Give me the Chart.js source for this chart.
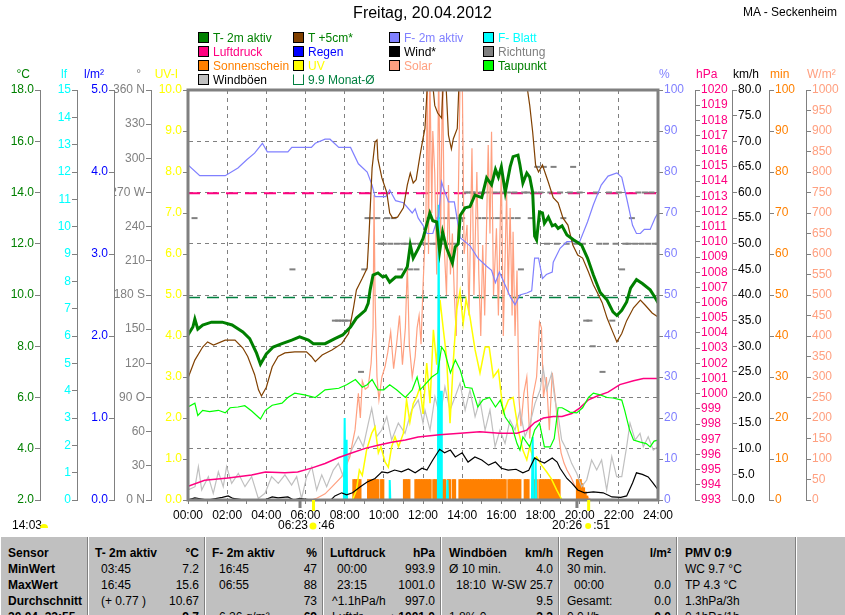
<!DOCTYPE html>
<html lang="de">
<head>
<meta charset="UTF-8">
<title>Wetter MA - Seckenheim 20.04.2012</title>
<style>
  body { margin: 0; width: 845px; height: 615px; overflow: hidden; background: #fff;
         font-family: "Liberation Sans", Arial, sans-serif; font-size: 12px; position: relative; }
  #titel { position: absolute; left: 0; width: 845px; top: 4px; text-align: center; font-size: 16px; }
  #station { position: absolute; right: 8px; top: 5px; white-space: nowrap; }
  #wrap { position: absolute; left: 0; top: 0; width: 845px; height: 537px; }
  #legende { position: absolute; left: 198px; top: 31px; }
  .li { position: absolute; white-space: nowrap; height: 14px; line-height: 14px; }
  .li i { display: inline-block; width: 9px; height: 9px; border: 1px solid #000; vertical-align: -1px; margin-right: 4px; }
  #stats { position: absolute; left: 0; top: 537px; width: 845px; height: 78px; background: #c0c0c0; }
  .col { position: absolute; top: 0; height: 78px; border-left: 1px solid #808080; box-shadow: inset 1px 0 #fff; }
  .cell { position: absolute; left: 0; right: 0; height: 16px; line-height: 16px; white-space: nowrap; }
  .cell span { position: absolute; }
  .b { font-weight: bold; }
</style>
</head>
<body>
<div id="wrap"><canvas id="wetterChart"></canvas></div>
<div id="titel">Freitag, 20.04.2012</div>
<div id="station">MA - Seckenheim</div>
<div id="legende"></div>
<div id="stats"></div>

<script src="https://cdn.jsdelivr.net/npm/chart.js"></script>
<script>
const tT2 = [0,0.25,0.35,0.5,0.75,1.2,1.75,2.25,2.8,3.15,3.5,3.7,4.0,4.35,4.8,5.3,5.7,6.15,6.4,7.0,7.5,7.9,8.3,8.6,9.05,9.2,9.3,9.45,9.7,9.95,10.1,10.3,10.6,10.9,11.2,11.35,11.5,11.75,12.0,12.35,12.5,12.7,12.85,13.0,13.2,13.5,13.65,13.8,13.9,14.15,14.4,14.65,15.0,15.25,15.5,15.7,15.85,16.0,16.2,16.45,16.6,16.85,16.95,17.1,17.3,17.45,17.6,17.7,17.8,17.95,18.1,18.2,18.4,18.6,18.75,18.9,19.1,19.35,19.7,20.1,20.4,20.7,21.05,21.4,21.7,21.9,22.15,22.4,22.6,22.9,23.2,23.6,23.85,24];
const vT2 = [8.44,8.75,9.06,8.67,8.83,8.94,8.94,8.83,8.56,8.3,7.73,7.3,7.7,7.97,8.1,8.24,8.37,8.24,8.1,8.1,8.3,8.44,8.75,9.1,9.4,9.67,10.2,10.78,10.86,10.7,10.75,10.5,10.7,10.7,11.1,11.95,11.44,11.8,12.2,13.2,12.9,12.85,11.7,12.46,11.84,11.25,11.88,12.0,13.1,13.4,13.45,13.9,13.8,14.57,14.3,14.9,14.6,15.0,14.0,15.0,15.4,15.46,15.07,14.37,14.76,14.6,14.0,12.3,12.15,13.24,13.2,12.8,13.04,12.7,12.75,12.6,12.7,12.34,12.15,11.95,11.44,10.78,10.1,9.8,9.34,9.2,9.4,9.73,10.27,10.6,10.45,10.2,9.9,9.7];

const tT5 = [0,0.35,0.75,1.0,1.3,1.9,2.4,2.8,3.05,3.4,3.6,3.75,4.0,4.3,4.6,4.95,5.45,6.05,6.3,6.5,6.85,7.35,7.85,8.2,8.45,8.6,8.9,9.15,9.25,9.4,9.55,9.65,9.7,9.9,10.15,10.3,10.45,10.7,11.0,11.2,11.35,11.5,11.65,11.85,12.0,12.1,12.25,12.45,12.6,12.75,12.95,13.05,13.15,13.3,13.45,13.55,13.75,13.85,14.5,15.5,16.5,17.3,17.45,17.6,17.75,17.9,18.1,18.4,18.65,18.9,19.15,19.4,19.65,19.9,20.15,20.45,20.7,20.9,21.15,21.4,21.65,21.9,22.15,22.4,22.75,23.1,23.35,23.7,24];
const vT5 = [6.76,7.46,7.97,8.17,8.05,8.24,8.24,7.93,7.6,6.9,6.3,6.06,6.4,7.2,7.6,7.74,7.78,7.78,7.6,7.4,7.66,7.85,8.1,8.5,9.5,10.2,10.65,11.05,12.46,14.95,15.97,16.05,15.3,14.57,14.0,13.2,13.0,13.04,13.4,14.3,14.76,14.37,14.5,15.46,16.1,16.5,18.6,18.6,17.4,17.1,16.9,18.6,18.6,16.24,15.7,16.1,16.5,18.5,19.5,20,19.5,18.2,17.4,16.36,15.07,14.8,15.07,14.4,13.8,13.6,13.0,12.73,11.95,11.56,11.44,10.9,10.4,10.1,9.7,9.1,8.63,8.17,8.5,9.0,9.5,9.8,9.6,9.3,9.14];

const tTau = [0,0.35,0.5,0.75,1.1,1.55,1.9,2.15,2.55,2.9,3.25,3.7,3.95,4.3,4.8,5.1,5.45,5.95,6.5,7.0,7.7,8.1,8.55,8.9,9.15,9.4,9.7,10.0,10.3,10.65,11.1,11.45,11.7,11.85,12.1,12.45,12.75,12.95,13.1,13.4,13.65,13.9,14.15,14.5,14.8,15.05,15.4,15.7,15.95,16.2,16.55,16.8,16.95,17.1,17.45,17.7,17.95,18.2,18.5,18.7,18.9,19.1,19.5,19.85,20.15,20.45,20.7,21.05,21.4,21.7,22.15,22.3,22.55,22.75,23.1,23.4,23.6,23.8,24];
const vTau = [5.63,5.78,5.3,5.5,5.45,5.5,5.4,5.6,5.63,5.68,5.47,5.16,5.5,5.7,5.78,6.0,6.17,6.1,6.0,6.3,6.36,6.5,6.7,6.4,6.5,6.7,6.3,6.3,6.5,6.3,6.0,6.3,6.8,6.3,6.5,6.8,6.96,7.97,7.8,6.96,7.46,7.07,6.4,6.36,5.63,5.9,6.0,5.63,5.9,5.24,4.85,4.2,3.95,4.46,4.07,4.73,5.0,4.07,4.07,4.4,5.6,5.6,5.43,5.4,5.6,6.0,6.17,6.1,6.0,5.98,5.9,5.5,4.73,4.34,4.26,4.2,4.07,4.3,4.34];

const tHum = [0,0.6,1.9,2.55,3.0,3.4,3.8,4.05,5.1,5.3,6.3,6.5,7.0,7.25,7.7,8.3,8.7,9.15,9.4,9.55,10.1,10.3,10.6,11.0,11.45,11.6,11.75,12.0,12.2,12.5,12.8,12.95,13.05,13.3,13.6,13.9,14.4,14.8,15.25,15.5,15.7,15.9,16.2,16.45,16.7,16.95,17.3,17.55,17.7,17.9,18.1,18.3,18.6,18.65,19.0,19.35,20.0,20.4,20.7,21.1,21.45,21.9,22.15,22.4,22.7,22.9,23.1,23.3,23.6,23.85,24];
const vHum = [81.7,79.1,79.1,81,83,84.6,87,84.9,84.9,86,86,87,88,88,86,86,82,80,76.8,74,74,75.6,73,72.5,70,71,68.8,67,65,65,69.5,77.6,76,72.7,72.7,64,62,59,57,56,53,55.6,52.4,49.6,47.6,50,50.5,51,59,59,54,55,55.6,58,61.4,63,63,67.8,72,76.8,79,79.8,78.7,73.6,67,65,65,66,66,68.8,70];

const tDruck = [0,0.85,2.05,3.25,3.95,4.95,5.6,6.3,7.0,7.7,8.35,9.05,9.7,10.4,11.1,11.75,12.85,13.9,14.9,15.9,16.8,17.3,17.7,18.15,18.65,19.1,19.6,20.0,20.45,20.9,21.45,22.05,22.75,23.25,24];
const vDruck = [993.9,994.3,994.45,994.65,994.85,994.8,994.85,995.1,995.4,995.8,996.1,996.4,996.6,996.8,996.95,997.15,997.3,997.4,997.5,997.4,997.4,997.6,998.1,998.4,998.5,998.5,998.7,999.05,999.6,999.85,1000.1,1000.6,1000.85,1001.0,1001.0];

const tWind = [0,0.35,0.7,1.0,1.75,2.05,2.3,2.9,3.9,4.3,4.6,5.1,5.4,5.7,6.3,7.3,7.5,7.85,8.1,8.4,8.8,9.15,9.55,9.9,10.2,10.55,10.9,11.25,11.6,11.95,12.2,12.5,12.85,13.1,13.4,13.65,14.0,14.3,14.65,15.0,15.35,15.7,16.0,16.35,16.75,17.1,17.4,17.7,17.95,18.2,18.6,18.85,19.0,19.35,19.6,19.9,20.25,20.7,21.2,21.65,22.1,22.4,22.7,22.9,23.2,23.5,23.75,24];
const vWind = [0,0.4,0.2,0,0.5,0.8,0.3,0,0,0.6,0.4,0.6,0,0.3,0,0,0.8,1.4,1.0,1.4,2.6,3.5,4.2,5.5,5.3,5.85,5.5,6.05,5.3,6.2,5.85,7.8,9.9,9.2,9.75,8.4,9.2,7.4,8.4,7.8,6.8,7.4,6.2,5.85,6.0,5.3,5.8,8.2,7.6,7.2,8.2,7.4,6.2,4.2,3.3,1.95,1.4,1.6,1.4,0.6,0.5,0.8,3.3,5.3,5.0,4.5,3.3,2.0];

const tBoen = [0,0.36,0.53,0.7,1.04,1.29,1.55,1.8,1.97,2.23,2.57,2.91,3.25,3.59,3.93,4.27,4.61,4.95,5.29,5.55,5.8,6.06,6.32,6.57,6.83,7.08,7.42,7.68,7.93,8.19,8.44,8.7,8.95,9.21,9.38,9.63,9.89,10.15,10.4,10.74,11.08,11.42,11.76,12.0,12.1,12.36,12.61,12.87,13.12,13.38,13.64,13.89,14.15,14.4,14.66,14.91,15.17,15.42,15.68,15.93,16.19,16.44,16.7,16.95,17.21,17.47,17.72,17.98,18.14,18.31,18.57,18.74,18.91,19.08,19.34,19.59,19.85,20.1,20.36,20.61,20.87,21.12,21.38,21.64,21.89,22.15,22.4,22.57,22.83,23.08,23.25,23.5,23.76,24];
const vBoen = [1.95,2.6,6.5,1.95,4.55,1.3,5.5,2.6,6.5,3.25,5.2,2.6,4.55,0.3,1.3,4.55,3.25,4.9,2.9,4.55,0.3,4.55,6.5,1.95,4.9,2.6,5.85,7.15,4.55,8.45,10.4,12.35,10.4,15,17.9,12.35,13.65,16.25,11.7,15,13,17.55,19.5,15,17.55,13.65,20.15,16.25,22.1,17.55,20.15,22.8,17.55,21.45,16.25,19.5,13.65,17.55,10.4,13.65,11.05,15.6,13.65,17.55,12.35,15,18.85,21.45,25.7,21.45,24.7,19.5,16.25,11.7,9.75,7.15,5.2,2.6,3.9,7.8,5.85,7.8,1.95,8.45,4.55,4.55,10.4,15,11.7,13,10.4,12.35,9.75,10.4];

const tSolar = [0,6.3,6.6,7.0,7.35,7.85,8.27,8.4,8.53,8.7,8.8,8.9,9.05,9.2,9.35,9.45,9.5,9.55,9.65,9.75,9.9,10.06,10.2,10.35,10.5,10.65,10.8,10.95,11.1,11.2,11.3,11.45,11.6,11.7,11.8,11.9,12.0,12.15,12.22,12.28,12.35,12.45,12.5,12.6,12.7,12.8,12.9,13.0,13.1,13.2,13.3,13.4,13.5,13.6,13.7,13.9,14.0,14.1,14.25,14.35,14.5,14.6,14.75,14.85,14.95,15.05,15.15,15.33,15.42,15.5,15.6,15.75,15.85,16.0,16.1,16.27,16.35,16.45,16.55,16.6,16.7,16.8,16.9,17.0,17.15,17.3,17.45,17.6,17.8,17.95,18.05,18.15,18.3,18.45,18.6,18.75,18.9,19.05,19.2,19.35,19.55,19.75,19.95,20.15,20.35,20.6,24];
const vSolar = [0,0,5,15,32,57,106,140,171,260,200,290,270,276,333,420,744,500,300,244,300,325,360,410,320,380,450,330,420,573,380,300,350,420,450,380,520,688,1050,600,1050,700,900,797,550,1050,650,1050,600,500,768,550,650,500,400,1050,1050,600,671,450,858,500,800,550,400,622,450,866,650,898,500,663,450,817,400,751,500,712,450,654,400,560,250,180,260,300,150,250,300,434,420,250,300,170,310,250,170,115,90,73,56,35,24,12,8,0,0];

const tUV = [0,8.4,8.6,8.75,8.9,9.12,9.38,9.55,9.72,9.85,10.06,10.23,10.4,10.57,10.75,11.0,11.16,11.33,11.5,11.68,11.85,12.0,12.19,12.36,12.53,12.7,12.87,13.04,13.2,13.38,13.55,13.72,13.89,14.05,14.2,14.4,14.66,14.91,15.17,15.38,15.59,15.85,16.1,16.36,16.6,16.87,17.1,17.3,17.45,17.65,17.8,18.05,18.31,18.55,18.83,19.1,24];
const vUV = [0,0,0.24,0.73,0.6,1.22,1.63,1.78,1.15,1.3,0.93,0.8,1.3,1.54,1.3,1.63,2.44,1.9,2.35,2.52,2.76,2.1,3.34,2.36,4.15,3.3,4.88,4.15,3.5,1.87,3.4,4.63,5.1,4.3,4.9,4.46,3.66,3.1,3.73,3.73,3.0,3.17,2.12,2.44,2.5,1.7,1.22,0.98,1.3,0.98,1.05,0.85,0.69,0.52,0.24,0,0];

const tBlatt = [0,7.96,8.0,8.04,8.08,8.1,8.12,10.27,10.3,10.33,12.76,12.8,12.84,12.88,12.92,12.96,13.22,13.25,13.28,17.56,17.6,17.64,17.72,17.75,17.78,24];
const vBlatt = [0,0,3.0,0,0,2.2,0,0,0.73,0,0,10.8,0,0,4.0,0,0,0.73,0,0,2.3,0,0,1.5,0,0];

const tRegen = [0,24];
const vRegen = [0,0];

// Sonnenschein in min je 5-min-Intervall ab 08:00
const sonneStart = 8;
const sonneMin = [
  0,0,0,0,0,5,5,5,5,5,0,0,
  0,0,5,5,5,5,5,5,5,0,5,5,
  0,0,0,0,0,0,0,0,0,0,0,0,
  5,5,5,5,0,0,0,5,5,5,5,5,
  5,5,5,5,5,0,5,5,5,5,5,5,
  5,5,0,5,5,0,5,5,0,0,5,5,
  5,5,5,5,5,5,5,5,5,5,5,5,
  5,5,5,5,5,5,5,5,5,5,5,5,
  5,5,5,0,5,5,5,5,5,5,5,5,
  0,0,5,5,5,0,0,0,5,5,0,5,
  5,5,5,5,5,5,5,5,5,5,5,5,
  0,0,0,0,0,0,0,0,0,0,5,5,
  5,4,3,2,1,0
];

// Windrichtung je 10 min ab 00:00 (null = Windstille)
const richtung = [
  null,null,247.5,null,null,null,null,null,null,null,null,null,
  null,null,null,null,null,null,null,null,null,null,null,null,
  null,null,null,null,null,null,null,null,202.5,null,null,null,
  null,null,null,null,null,null,null,null,null,157.5,157.5,157.5,
  157.5,157.5,null,null,null,112.5,202.5,247.5,247.5,247.5,247.5,225,
  225,247.5,225,247.5,225,202.5,225,225,202.5,225,202.5,225,
  225,225,247.5,225,225,247.5,225,247.5,225,247.5,225,247.5,
  247.5,270,270,270,270,247.5,270,247.5,270,247.5,270,247.5,
  270,247.5,270,247.5,270,247.5,202.5,270,270,247.5,270,292.5,
  270,292.5,225,270,292.5,225,270,247.5,225,270,292.5,225,
  270,225,157.5,157.5,135,270,225,112.5,225,270,157.5,225,
  270,202.5,225,225,247.5,225,270,225,270,225,270,225,
  225
];

const monatTemp = 9.9;
const monatDruck = 1013.2;
const sonnenAuf = 6 + 23 / 60;
const sonnenUnter = 20 + 26 / 60;
const daemmerung = [5.72, 19.86];

function pts(ts, vs) { return ts.map((t, i) => ({ x: t, y: vs[i] })); }

const sonneDaten = sonneMin.map((v, i) => ({ x: sonneStart + (i + 0.5) / 12, y: v }));
const richtungDaten = richtung.map((v, i) => ({ x: i / 6, y: v })).filter(p => p.y !== null);

function linie(label, data, color, axis, width) {
  return { label, data, borderColor: color, backgroundColor: color, yAxisID: axis,
           borderWidth: width, pointRadius: 0, tension: 0, fill: false };
}

const datasets = [
  linie('T- 2m aktiv', pts(tT2, vT2), '#008000', 'yT', 3),
  linie('T +5cm*', pts(tT5, vT5), '#804000', 'yT', 1.2),
  linie('Taupunkt', pts(tTau, vTau), '#00ff00', 'yT', 1.2),
  linie('F- 2m aktiv', pts(tHum, vHum), '#8080ff', 'yH', 1.2),
  linie('Luftdruck', pts(tDruck, vDruck), '#ff0080', 'yP', 1.5),
  linie('Wind*', pts(tWind, vWind), '#000000', 'yW', 1.2),
  linie('F- Blatt', pts(tBlatt, vBlatt), '#00ffff', 'yLf', 2),
  linie('UV', pts(tUV, vUV), '#ffff00', 'yUV', 1.5),
  linie('Windböen', pts(tBoen, vBoen), '#c0c0c0', 'yW', 1.2),
  linie('Regen', pts(tRegen, vRegen), '#0000ff', 'yR', 1),
  { type: 'bar', label: 'Sonnenschein', data: sonneDaten, yAxisID: 'yMin', backgroundColor: '#ff8000',
    barThickness: 2, grouped: false },
  linie('Solar', pts(tSolar, vSolar), '#ffa080', 'yS', 1.2),
  { label: 'Richtung', data: richtungDaten, yAxisID: 'yDir', showLine: false, pointStyle: 'line',
    pointRadius: 3, pointBorderWidth: 2, borderColor: '#808080', backgroundColor: '#808080' },
  Object.assign(linie('9.9 Monat-Ø', [{ x: 0, y: monatTemp }, { x: 24, y: monatTemp }], '#008040', 'yT', 1.5), { borderDash: [12, 7] }),
  Object.assign(linie('Druck Monat-Ø', [{ x: 0, y: monatDruck }, { x: 24, y: monatDruck }], '#ff0080', 'yP', 2), { borderDash: [12, 7] })
];

function yAchse(pos, weight, min, max, step, color, fmt) {
  return {
    type: 'linear', position: pos, weight, min, max,
    ticks: { stepSize: step, color, autoSkip: false, padding: 1, callback: fmt },
    grid: { drawOnChartArea: false, tickLength: 5, tickColor: '#808080' },
    border: { color: '#808080', width: 1 },
    afterFit(s) { s.width = 37; }
  };
}
const f1 = v => v.toFixed(1);
const f0 = v => String(v);
const richtungText = { 360: '360 N', 270: '270 W', 180: '180 S', 90: '90 O', 0: '0 N' };

const scales = {
  x: {
    type: 'linear', min: 0, max: 24, offset: false,
    ticks: { stepSize: 1, autoSkip: false, maxRotation: 0, padding: 4, color: '#000',
             callback: v => v % 2 === 0 ? (v < 10 ? '0' : '') + v + ':00' : '' },
    grid: { offset: false, tickLength: 4, tickColor: '#808080',
            color: c => (c.tick && c.tick.value % 2 === 0 && c.tick.value > 0 && c.tick.value < 24) ? '#808080' : 'rgba(0,0,0,0)' },
    border: { display: false, dash: [4, 4] },
    afterFit(s) { s.height = 37; }
  },
  yT: yAchse('left', 5, 2, 18, 2, '#008000', f1),
  yLf: yAchse('left', 4, 0, 15, 1, '#00ffff', f0),
  yR: yAchse('left', 3, 0, 5, 1, '#0000ff', f1),
  yDir: yAchse('left', 2, 0, 360, 30, '#808080', v => richtungText[v] || String(v)),
  yUV: yAchse('left', 1, 0, 10, 1, '#ffff00', f1),
  yH: yAchse('right', 1, 0, 100, 10, '#8080ff', f0),
  yP: yAchse('right', 2, 993, 1020, 1, '#ff0080', f0),
  yW: yAchse('right', 3, 0, 80, 5, '#000000', f1),
  yMin: yAchse('right', 4, 0, 100, 10, '#ff8000', f0),
  yS: yAchse('right', 5, 0, 1000, 50, '#ffa080', f0)
};
scales.yT.grid = { drawOnChartArea: true, color: '#808080', tickLength: 5, tickColor: '#808080' };
scales.yT.border = { color: '#808080', width: 1, dash: [4, 4] };

const einheiten = { yT: '°C', yLf: 'lf', yR: 'l/m²', yDir: '°', yUV: 'UV-I',
                    yH: '%', yP: 'hPa', yW: 'km/h', yMin: 'min', yS: 'W/m²' };

const rahmen = {
  id: 'rahmen',
  afterDatasetsDraw(chart) {
    const { ctx, chartArea: a } = chart;
    const x = chart.scales.x;
    ctx.save();
    ctx.strokeStyle = '#808080';
    ctx.lineWidth = 3;
    ctx.strokeRect(a.left, a.top, a.right - a.left, a.bottom - a.top);
    daemmerung.forEach(t => {
      const px = x.getPixelForValue(t);
      ctx.fillStyle = '#808080';
      ctx.fillRect(px - 1.5, a.bottom, 3, 8);
    });
    [sonnenAuf, sonnenUnter].forEach(t => {
      const px = x.getPixelForValue(t);
      ctx.fillStyle = '#ffff00';
      ctx.fillRect(px - 1, a.bottom, 3, 11);
    });
    ctx.restore();
  },
  afterDraw(chart) {
    const { ctx } = chart;
    const x = chart.scales.x;
    ctx.save();
    ctx.font = '12px "Liberation Sans", Arial, sans-serif';
    ctx.textBaseline = 'middle';
    for (const id in einheiten) {
      const s = chart.scales[id];
      ctx.fillStyle = s.options.ticks.color;
      if (s.position === 'left') { ctx.textAlign = 'right'; ctx.fillText(einheiten[id], s.right - 10, 75); }
      else { ctx.textAlign = 'left'; ctx.fillText(einheiten[id], s.left + 1, 75); }
    }
    // Sonnenauf-/untergang
    ctx.fillStyle = '#000';
    const pa = x.getPixelForValue(sonnenAuf), pu = x.getPixelForValue(sonnenUnter);
    ctx.textAlign = 'right';
    ctx.fillText('06:23', pa - 5, 526);
    ctx.fillText('20:26', pu - 6, 526);
    ctx.textAlign = 'left';
    ctx.fillText(':46', pa + 5, 526);
    ctx.fillText(':51', pu + 5, 526);
    ctx.fillText('14:03', 12, 526);
    ctx.fillStyle = '#ffff00';
    ctx.beginPath(); ctx.arc(pa, 526, 3.5, 0, Math.PI * 2); ctx.fill();
    ctx.beginPath(); ctx.arc(pu, 526, 3, 0, Math.PI * 2); ctx.fill();
    ctx.beginPath(); ctx.arc(44, 528, 4, Math.PI, 0); ctx.fill();
    ctx.restore();
  }
};

new Chart(document.getElementById('wetterChart'), {
  type: 'line',
  data: { datasets },
  options: {
    responsive: true, maintainAspectRatio: false, animation: false,
    layout: { padding: { left: 3, right: 2, top: 90, bottom: 0 } },
    font: { family: '"Liberation Sans", Arial, sans-serif', size: 12 },
    plugins: { legend: { display: false }, tooltip: { enabled: false } },
    scales
  },
  plugins: [rahmen]
});

// --- Legende ---
const legendeEintraege = [
  ['T- 2m aktiv', '#008000', '#008000'], ['Luftdruck', '#ff0080', '#ff0080'], ['Sonnenschein', '#ff8000', '#ff8000'], ['Windböen', '#c0c0c0', '#000000'],
  ['T +5cm*', '#804000', '#008000'], ['Regen', '#0000ff', '#0000ff'], ['UV', '#ffff00', '#ffff00'], ['9.9 Monat-Ø', null, '#008040'],
  ['F- 2m aktiv', '#8080ff', '#8080ff'], ['Wind*', '#000000', '#000000'], ['Solar', '#ffa080', '#ffa080'], null,
  ['F- Blatt', '#00ffff', '#00ffff'], ['Richtung', '#808080', '#808080'], ['Taupunkt', '#00ff00', '#008000'], null
];
const legSpalten = [0, 95, 191, 285];
const legende = document.getElementById('legende');
legendeEintraege.forEach((e, i) => {
  if (!e) return;
  const d = document.createElement('div');
  d.className = 'li';
  d.style.left = legSpalten[Math.floor(i / 4)] + 'px';
  d.style.top = (i % 4) * 14 + 'px';
  const box = e[1] ? '<i style="background:' + e[1] + '"></i>'
                   : '<i style="background:#fff;border-color:#008040;border-top-color:#fff"></i>';
  d.innerHTML = box + '<span style="color:' + e[2] + '">' + e[0] + '</span>';
  legende.appendChild(d);
});

// --- Tabelle ---
const tabelle = [
  { left: 0, width: 87, cells: [['Sensor', '', 8], ['MinWert', '', 8], ['MaxWert', '', 8], ['Durchschnitt', '', 8], ['20.04. 22:55', '', 8]], fett: true },
  { left: 87, width: 117, cells: [['T- 2m aktiv', '°C', 7], ['03:45', '7.2', 13], ['16:45', '15.6', 13], ['(+ 0.77 )', '10.67', 13], ['', '9.7', 13]] },
  { left: 204, width: 118, cells: [['F- 2m aktiv', '%', 7], ['16:45', '47', 14], ['06:55', '88', 14], ['', '73', 14], ['6.26 g/m³', '69', 14]] },
  { left: 322, width: 118, cells: [['Luftdruck', 'hPa', 7], ['00:00', '993.9', 14], ['23:15', '1001.0', 14], ['^1.1hPa/h', '997.0', 9], ['Luftdr.', '▲1001.0', 9]] },
  { left: 440, width: 118, cells: [['Windböen', 'km/h', 8], ['Ø 10 min.', '4.0', 8], ['18:10', 'W-SW 25.7', 15], ['', '9.5', 8], ['1.8% 0', '2.2', 8]] },
  { left: 558, width: 118, cells: [['Regen', 'l/m²', 8], ['30 min.', '', 8], ['00:00', '0.0', 15], ['Gesamt:', '0.0', 8], ['0.0 l/h', '0.0', 8]] },
  { left: 676, width: 119, cells: [['PMV 0:9', '', 8], ['WC 9.7 °C', '', 8], ['TP 4.3 °C', '', 8], ['1.3hPa/3h', '', 8], ['0.1hPa/1h', '', 8]] },
  { left: 795, width: 50, cells: [] }
];
const stats = document.getElementById('stats');
tabelle.forEach((c, ci) => {
  const col = document.createElement('div');
  col.className = 'col';
  col.style.left = c.left + 'px';
  col.style.width = c.width + 'px';
  if (ci === 0) col.style.borderLeft = 'none';
  c.cells.forEach((cell, r) => {
    const d = document.createElement('div');
    d.className = 'cell';
    d.style.top = (8 + r * 16) + 'px';
    const l = document.createElement('span');
    l.textContent = cell[0];
    l.style.left = cell[2] + 'px';
    if (c.fett || r === 0) l.className = 'b';
    const rt = document.createElement('span');
    rt.textContent = cell[1];
    rt.style.right = '6px';
    if (r === 0 || r === 4) rt.className = 'b';
    d.appendChild(l); d.appendChild(rt);
    col.appendChild(d);
  });
  stats.appendChild(col);
});
</script>
</body>
</html>
